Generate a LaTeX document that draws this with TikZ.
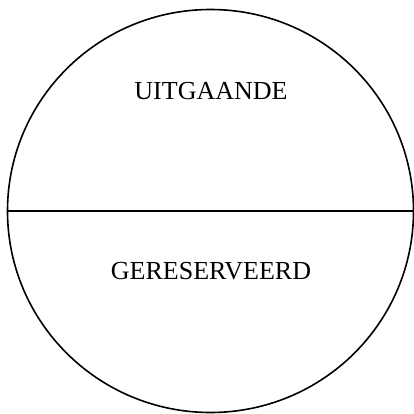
\documentclass[tikz,border=0pt]{standalone}
\usepackage{fontspec}
\setmainfont{Liberation Serif}
\usetikzlibrary{shapes.geometric}

\begin{document}
\begin{tikzpicture}[
  x=1pt, y=-1pt,
  disc/.style={draw=black, ellipse, line width=1.6pt, minimum width=406pt, minimum height=403pt, inner sep=0pt},
  split/.style={draw=black, line width=1.6pt},
  parttext/.style={font=\fontsize{26}{30}\selectfont, inner sep=0pt}
]
\useasboundingbox (0,0) rectangle (414,414);
\node[disc] (ring) at (210.5,211) {};
\draw[split] (ring.west) -- (ring.east);
\node[parttext] (outgoing) at (211,91) {UITGAANDE};
\node[parttext] (reserved) at (211,271) {GERESERVEERD};
\end{tikzpicture}
\end{document}
